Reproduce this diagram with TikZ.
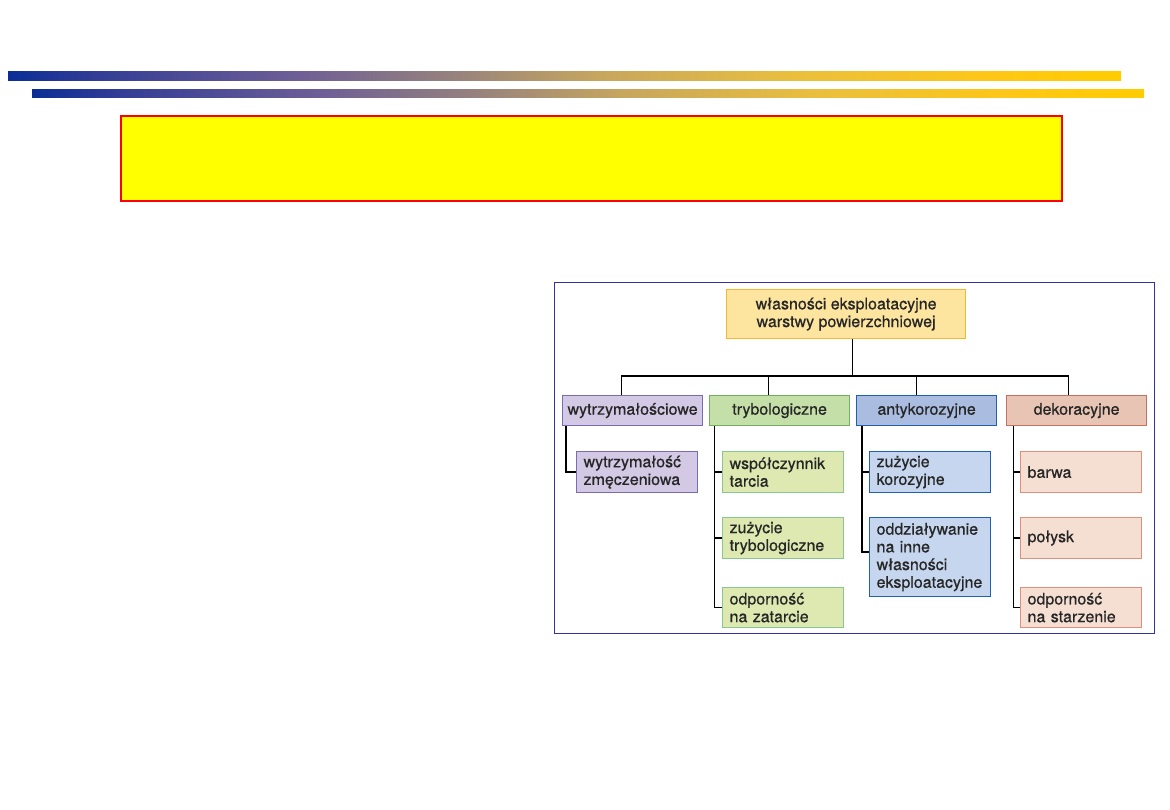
\documentclass[tikz,border=0pt]{standalone}
\usepackage{fontspec}
\setmainfont{TeX Gyre Heros}
\newfontfamily\boxfont{TeX Gyre Heros}[RawFeature={embolden=0.6}]
\usepackage{xcolor}
\usepackage{tikz}
\hyphenpenalty=10000

\definecolor{framec}{HTML}{333399}
\definecolor{titlefill}{RGB}{255,255,0}
\definecolor{titleline}{RGB}{255,0,0}
\definecolor{topfill}{HTML}{FDE5A0}
\definecolor{topline}{HTML}{F5B830}
\definecolor{purfill}{HTML}{D4C9E4}
\definecolor{purline}{HTML}{786CB4}
\definecolor{grnfill}{HTML}{C4E0A8}
\definecolor{grnline}{HTML}{70B060}
\definecolor{grnlight}{HTML}{DDE9B0}
\definecolor{grnlightline}{HTML}{88C890}
\definecolor{blufill}{HTML}{AABCE0}
\definecolor{bluline}{HTML}{2060B0}
\definecolor{blulight}{HTML}{C6D6EE}
\definecolor{redfill}{HTML}{E8C4B4}
\definecolor{redline}{HTML}{C87060}
\definecolor{redlight}{HTML}{F5DED2}
\definecolor{redlightline}{HTML}{E0907A}

% blue to gold strip for the header bars
\pgfdeclarehorizontalshading{barshade}{100bp}{
  rgb(0bp)=(0.04,0.18,0.59); rgb(25bp)=(0.04,0.18,0.59);
  rgb(29bp)=(0.20,0.24,0.59); rgb(38bp)=(0.43,0.37,0.59);
  rgb(45bp)=(0.59,0.51,0.49); rgb(51.5bp)=(0.78,0.65,0.37);
  rgb(60.5bp)=(0.92,0.75,0.24); rgb(69.5bp)=(1,0.78,0.08);
  rgb(75bp)=(1,0.8,0); rgb(100bp)=(1,0.8,0)}

\begin{document}
\begin{tikzpicture}[x=1pt, y=-1pt,
  box/.style={draw, line width=1.2pt, inner sep=0pt, text=black!85,
    font=\boxfont\fontsize{16}{17.7}\selectfont},
  head/.style={box, anchor=north west, align=center, minimum width=239pt, minimum height=49pt,
    fill=topfill, draw=topline},
  group/.style={box, anchor=north west, minimum width=140pt, minimum height=30pt},
  item/.style={box, anchor=north west, text width=107pt, inner xsep=7pt, align=left,
    minimum height=41pt},
  link/.style={line width=1.3pt},
  bar/.style={shading=barshade}
]
\useasboundingbox (0,0) rectangle (1170,810);

% header bars and title field
\shade[bar] (8,72) rectangle (1121,81);
\shade[bar] (32,90) rectangle (1144,98);
\draw[titleline, line width=2pt, fill=titlefill] (121,116) rectangle (1062,201);

% frame of the scheme
\draw[framec, line width=1pt] (554,283) rectangle (1154,633);

\node[head] (top) at (726,289) {własności eksploatacyjne\\warstwy powierzchniowej};

\node[group, fill=purfill, draw=purline] (wyt) at (562,395) {wytrzymałościowe};
\node[group, fill=grnfill, draw=grnline] (try) at (709,395) {trybologiczne};
\node[group, fill=blufill, draw=bluline] (ant) at (856,395) {antykorozyjne};
\node[group, fill=redfill, draw=redline] (dek) at (1006,395) {dekoracyjne};

\node[item, fill=purfill, draw=purline] (wzm) at (576,451) {wytrzymałość\\zmęczeniowa};

\node[item, fill=grnlight, draw=grnlightline] (wsp) at (722,451) {współczynnik\\tarcia};
\node[item, fill=grnlight, draw=grnlightline] (zty) at (722,517) {zużycie\\trybologiczne};
\node[item, fill=grnlight, draw=grnlightline, minimum height=40pt] (oza) at (722,587) {odporność\\na zatarcie};

\node[item, fill=blulight, draw=bluline] (zko) at (869,451) {zużycie\\korozyjne};
\node[item, fill=blulight, draw=bluline, minimum height=79pt] (odd) at (869,517)
  {oddziaływanie\\na inne\\własności\\eksploatacyjne};

\node[item, fill=redlight, draw=redlightline] (bar) at (1020,451) {barwa};
\node[item, fill=redlight, draw=redlightline] (pol) at (1020,517) {połysk};
\node[item, fill=redlight, draw=redlightline, minimum height=40pt] (ost) at (1020,587) {odporność\\na starzenie};

% tree lines
\coordinate (bus) at (0,376);
\draw[link] ([xshift=6.5]top.south) -- ([xshift=6.5]top.south |- bus);
\draw[link] ([xshift=-11]wyt.north) -- ([xshift=-11]wyt.north |- bus) -| ([xshift=-8]dek.north);
\draw[link] ([xshift=-11]try.north) -- ([xshift=-11]try.north |- bus);
\draw[link] ([xshift=-10]ant.north) -- ([xshift=-10]ant.north |- bus);

\draw[link] ([xshift=4]wyt.south west) |- (wzm.west);
\foreach \n in {wsp,zty,oza}
  \draw[link] ([xshift=5.7]try.south west) |- (\n.west);
\draw[link] ([xshift=6]ant.south west) |- (zko.west);
\draw[link] ([xshift=6]ant.south west) |- ([yshift=5]odd.west);
\foreach \n in {bar,pol,ost}
  \draw[link] ([xshift=7.3]dek.south west) |- (\n.west);
\end{tikzpicture}
\end{document}
